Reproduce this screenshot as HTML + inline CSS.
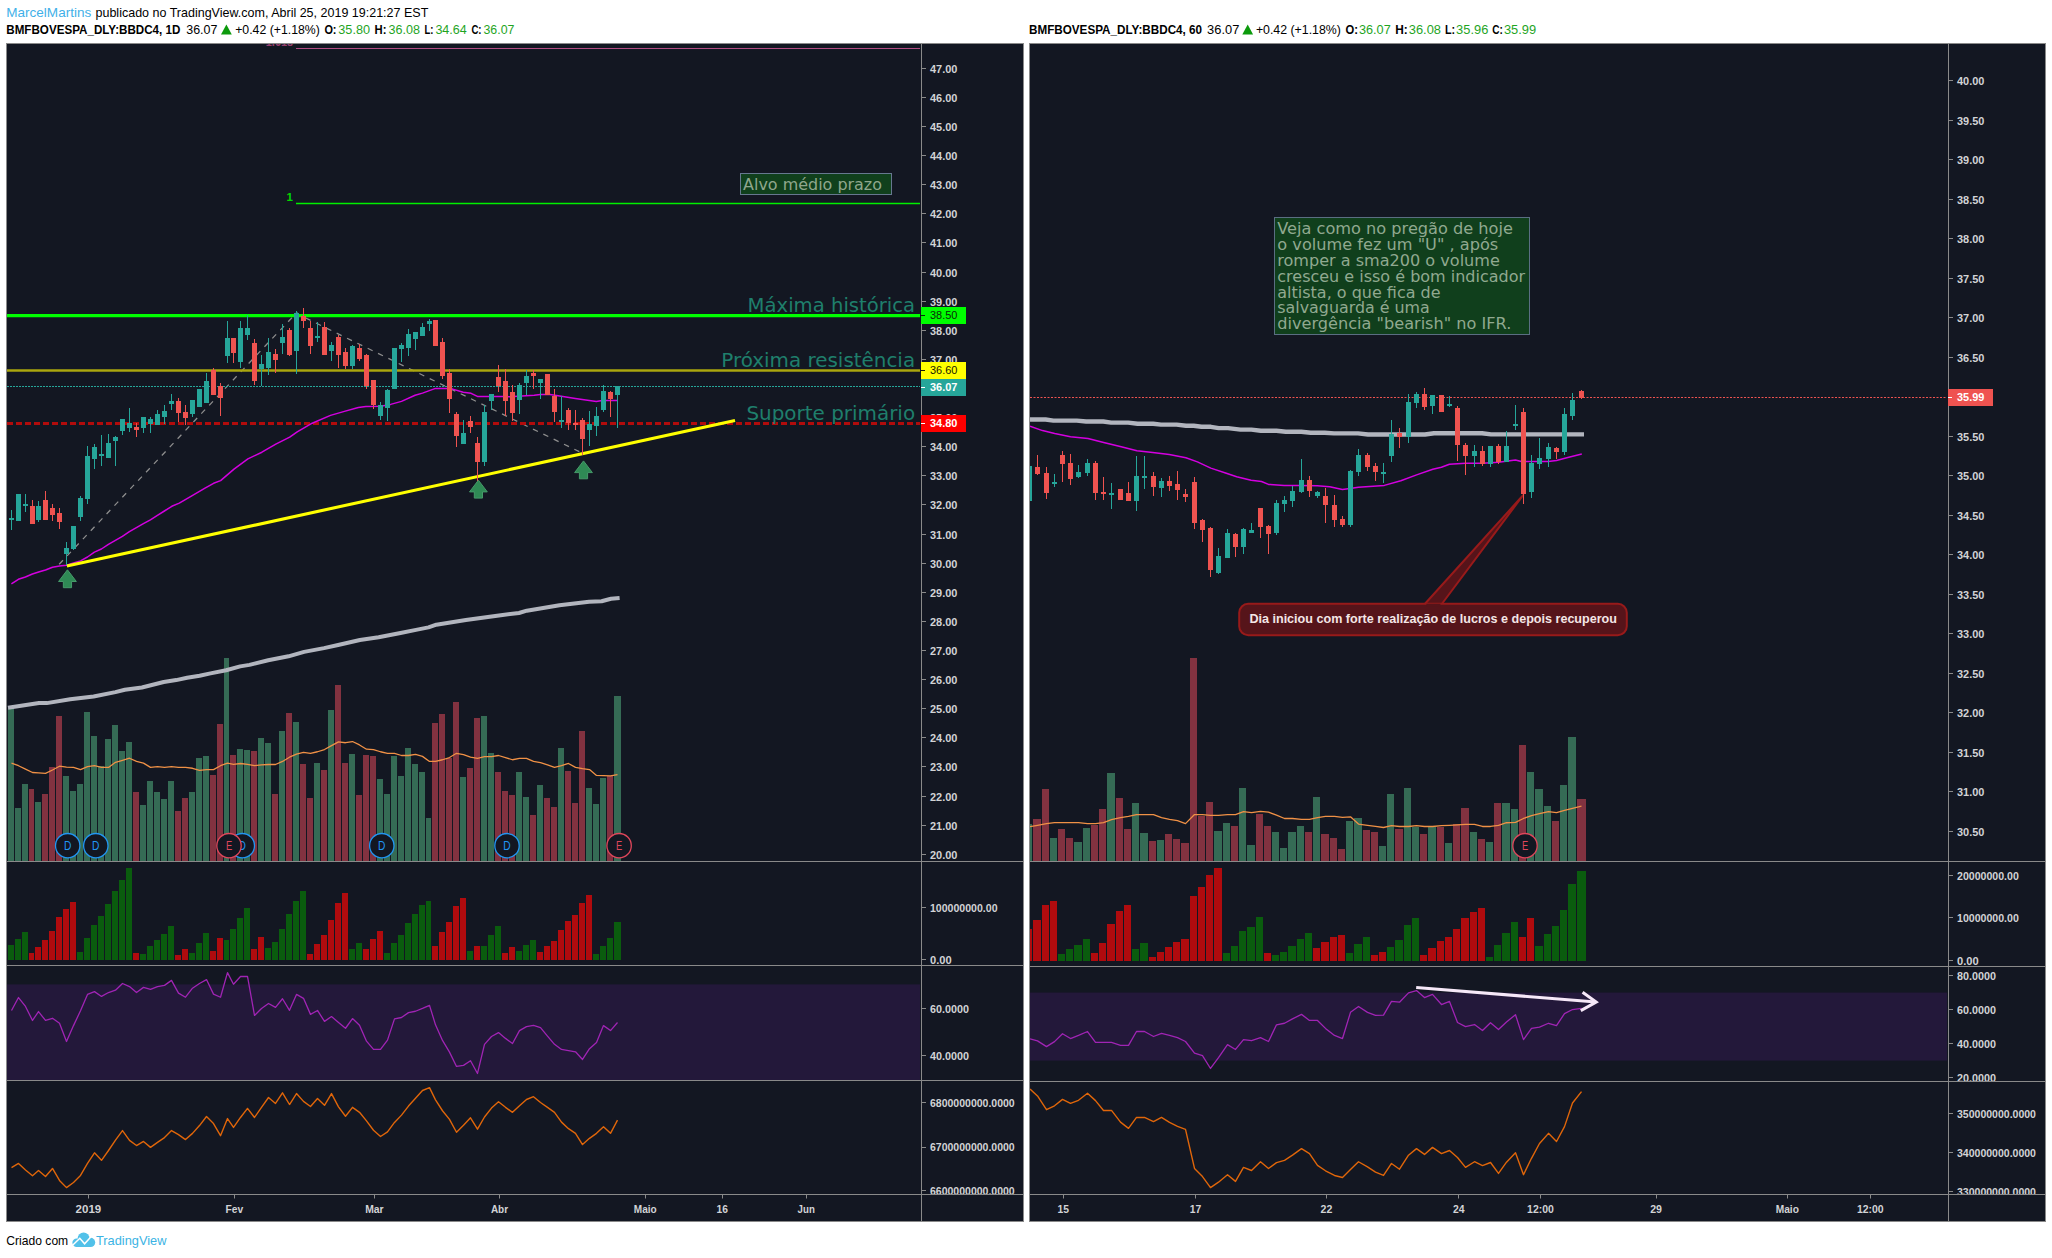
<!DOCTYPE html><html lang="pt"><head><meta charset="utf-8"><title>BBDC4 - TradingView</title>
<style>html,body{margin:0;padding:0;background:#fff}svg{display:block}text{font-family:'Liberation Sans', Arial, sans-serif}text.v{font-family:'DejaVu Sans', 'Liberation Sans', sans-serif}</style></head><body>
<svg width="2052" height="1258" viewBox="0 0 2052 1258">
<rect width="2052" height="1258" fill="#fff"/>
<defs>
<clipPath id="cl1"><rect x="7" y="44" width="914" height="817"/></clipPath>
<clipPath id="cl2"><rect x="7" y="862" width="914" height="103"/></clipPath>
<clipPath id="cl3"><rect x="7" y="966" width="914" height="114"/></clipPath>
<clipPath id="cl4"><rect x="7" y="1081" width="914" height="113"/></clipPath>
<clipPath id="cla"><rect x="922" y="44" width="101" height="1150"/></clipPath>
<clipPath id="cr1"><rect x="1030" y="44" width="918" height="817"/></clipPath>
<clipPath id="cr2"><rect x="1030" y="862" width="918" height="104"/></clipPath>
<clipPath id="cr3"><rect x="1030" y="967" width="918" height="114"/></clipPath>
<clipPath id="cr4"><rect x="1030" y="1082" width="918" height="112"/></clipPath>
<clipPath id="cra"><rect x="1949" y="44" width="96" height="1150"/></clipPath>
</defs>
<text x="6.3" y="17" font-size="12.6" font-weight="normal" fill="#3fb0e8" textLength="84.9" lengthAdjust="spacingAndGlyphs">MarcelMartins</text>
<text x="95.5" y="17" font-size="12.6" font-weight="normal" fill="#000" textLength="332.8" lengthAdjust="spacingAndGlyphs">publicado no TradingView.com, Abril 25, 2019 19:21:27 EST</text>
<text x="6.3" y="34" font-size="12.6" font-weight="bold" fill="#000" textLength="174.1" lengthAdjust="spacingAndGlyphs">BMFBOVESPA_DLY:BBDC4, 1D</text>
<text x="186.3" y="34" font-size="12.6" font-weight="normal" fill="#000" textLength="31.1" lengthAdjust="spacingAndGlyphs">36.07</text>
<path d="M221 34.5l5.4-10 5.4 10z" fill="#0c9a0c"/>
<text x="235.2" y="34" font-size="12.6" font-weight="normal" fill="#000" textLength="84.6" lengthAdjust="spacingAndGlyphs">+0.42 (+1.18%)</text>
<text x="324.4" y="34" font-size="12.6" font-weight="bold" fill="#000" textLength="12.1" lengthAdjust="spacingAndGlyphs">O:</text>
<text x="338.3" y="34" font-size="12.6" font-weight="normal" fill="#1fa51f" textLength="31.7" lengthAdjust="spacingAndGlyphs">35.80</text>
<text x="374.6" y="34" font-size="12.6" font-weight="bold" fill="#000" textLength="11.9" lengthAdjust="spacingAndGlyphs">H:</text>
<text x="388.5" y="34" font-size="12.6" font-weight="normal" fill="#1fa51f" textLength="31.4" lengthAdjust="spacingAndGlyphs">36.08</text>
<text x="424.5" y="34" font-size="12.6" font-weight="bold" fill="#000" textLength="8.9" lengthAdjust="spacingAndGlyphs">L:</text>
<text x="435.4" y="34" font-size="12.6" font-weight="normal" fill="#1fa51f" textLength="31.4" lengthAdjust="spacingAndGlyphs">34.64</text>
<text x="471.4" y="34" font-size="12.6" font-weight="bold" fill="#000" textLength="10.1" lengthAdjust="spacingAndGlyphs">C:</text>
<text x="483.5" y="34" font-size="12.6" font-weight="normal" fill="#1fa51f" textLength="30.9" lengthAdjust="spacingAndGlyphs">36.07</text>
<text x="1029" y="34" font-size="12.6" font-weight="bold" fill="#000" textLength="173.1" lengthAdjust="spacingAndGlyphs">BMFBOVESPA_DLY:BBDC4, 60</text>
<text x="1207.1" y="34" font-size="12.6" font-weight="normal" fill="#000" textLength="32.2" lengthAdjust="spacingAndGlyphs">36.07</text>
<path d="M1242.3 34.5l5.4-10 5.4 10z" fill="#0c9a0c"/>
<text x="1255.9" y="34" font-size="12.6" font-weight="normal" fill="#000" textLength="85" lengthAdjust="spacingAndGlyphs">+0.42 (+1.18%)</text>
<text x="1345.5" y="34" font-size="12.6" font-weight="bold" fill="#000" textLength="12.5" lengthAdjust="spacingAndGlyphs">O:</text>
<text x="1359" y="34" font-size="12.6" font-weight="normal" fill="#1fa51f" textLength="31.7" lengthAdjust="spacingAndGlyphs">36.07</text>
<text x="1395.3" y="34" font-size="12.6" font-weight="bold" fill="#000" textLength="12.5" lengthAdjust="spacingAndGlyphs">H:</text>
<text x="1408.8" y="34" font-size="12.6" font-weight="normal" fill="#1fa51f" textLength="32.2" lengthAdjust="spacingAndGlyphs">36.08</text>
<text x="1445" y="34" font-size="12.6" font-weight="bold" fill="#000" textLength="10.1" lengthAdjust="spacingAndGlyphs">L:</text>
<text x="1456.1" y="34" font-size="12.6" font-weight="normal" fill="#1fa51f" textLength="32.2" lengthAdjust="spacingAndGlyphs">35.96</text>
<text x="1492.3" y="34" font-size="12.6" font-weight="bold" fill="#000" textLength="10.6" lengthAdjust="spacingAndGlyphs">C:</text>
<text x="1503.9" y="34" font-size="12.6" font-weight="normal" fill="#1fa51f" textLength="32.2" lengthAdjust="spacingAndGlyphs">35.99</text>
<rect x="6.5" y="43.5" width="1017" height="1178" fill="#131722" stroke="#8a8a8a"/>
<rect x="1029.5" y="43.5" width="1016" height="1178" fill="#131722" stroke="#8a8a8a"/>
<path d="M7 861.5H1023" stroke="#8a8a8a"/>
<path d="M7 965.5H1023" stroke="#8a8a8a"/>
<path d="M7 1080.5H1023" stroke="#8a8a8a"/>
<path d="M7 1194.5H1023" stroke="#8a8a8a"/>
<path d="M921.5 44V1221" stroke="#8a8a8a"/>
<rect x="7" y="984.4" width="913" height="95.6" fill="#23183a"/>
<g clip-path="url(#cl1)">
<text x="265.8" y="46" font-size="12" font-weight="bold" fill="#96406f" textLength="27.3" lengthAdjust="spacingAndGlyphs">1.618</text>
<path d="M296 48.5H920" stroke="#b04c82"/>
<text x="286.6" y="201" font-size="11.5" font-weight="bold" fill="#00d800">1</text>
<path d="M296 203.5H920" stroke="#00f000" stroke-width="1.4"/>
<path d="M59.2 564.2L297.3 312" stroke="#8f8f8f" stroke-width="1.25" stroke-dasharray="5.5 6" fill="none"/>
<path d="M298.5 314.5L583 453.5" stroke="#8f8f8f" stroke-width="1.25" stroke-dasharray="5.5 6" stroke-dashoffset="3.5" fill="none"/>
<path d="M7 386.5H920" stroke="#26a69a" stroke-dasharray="2 1"/>
<path d="M7 315.6H920" stroke="#00ff00" stroke-width="3.2"/>
<path d="M7 370.5H920" stroke="#aaa60e" stroke-width="2.6"/>
<path d="M7 423.5H920" stroke="#b20c0c" stroke-width="3.2" stroke-dasharray="6 3"/>
</g>
<g clip-path="url(#cl1)" shape-rendering="crispEdges"><path fill="#356b55" d="M8 706h6V861h-6zM15 808h6V861h-6zM22 784h6V861h-6zM35 802h6V861h-6zM63 776h6V861h-6zM70 791h6V861h-6zM77 784h6V861h-6zM84 712h6V861h-6zM91 736h6V861h-6zM98 766h6V861h-6zM105 739h6V861h-6zM112 725h6V861h-6zM119 751h6V861h-6zM126 742h6V861h-6zM140 805h6V861h-6zM147 781h6V861h-6zM154 792h6V861h-6zM161 799h6V861h-6zM168 781h6V861h-6zM189 792h6V861h-6zM196 758h6V861h-6zM203 756h6V861h-6zM224 658h5V861h-5zM237 749h6V861h-6zM244 750h6V861h-6zM258 738h6V861h-6zM265 743h6V861h-6zM279 731h6V861h-6zM293 722h6V861h-6zM314 763h6V861h-6zM328 710h6V861h-6zM349 754h6V861h-6zM377 779h6V861h-6zM384 794h6V861h-6zM391 756h6V861h-6zM398 776h6V861h-6zM405 748h6V861h-6zM412 764h6V861h-6zM419 772h6V861h-6zM426 818h5V861h-5zM460 777h6V861h-6zM481 716h6V861h-6zM488 753h6V861h-6zM516 772h6V861h-6zM523 797h6V861h-6zM537 785h6V861h-6zM558 748h6V861h-6zM586 788h6V861h-6zM593 804h6V861h-6zM600 778h6V861h-6zM614 696h7V861h-7z"/><path fill="#823240" d="M29 789h5V861h-5zM42 794h6V861h-6zM49 767h6V861h-6zM56 716h6V861h-6zM133 792h6V861h-6zM175 811h6V861h-6zM182 798h6V861h-6zM210 775h6V861h-6zM217 724h6V861h-6zM230 755h6V861h-6zM251 751h6V861h-6zM272 794h6V861h-6zM286 713h6V861h-6zM300 764h6V861h-6zM307 798h6V861h-6zM321 770h6V861h-6zM335 685h6V861h-6zM342 763h6V861h-6zM356 795h6V861h-6zM363 755h6V861h-6zM370 756h6V861h-6zM432 723h6V861h-6zM439 714h6V861h-6zM446 758h6V861h-6zM453 702h6V861h-6zM467 768h6V861h-6zM474 718h6V861h-6zM495 772h6V861h-6zM502 791h6V861h-6zM509 795h6V861h-6zM530 815h6V861h-6zM544 798h6V861h-6zM551 807h6V861h-6zM565 771h6V861h-6zM572 803h6V861h-6zM579 731h6V861h-6zM607 776h6V861h-6z"/></g>
<polyline fill="none" stroke="#f09146" stroke-width="1.3" stroke-linejoin="round" clip-path="url(#cl1)" points="11.5,763.15 18.5,765.71 25.5,769.11 32.5,772.51 38.5,772.85 45.5,773.36 52.5,769.96 59.5,766.22 66.5,767.07 73.5,767.41 80.5,769.62 87.5,766.56 94.5,765.71 101.5,767.41 108.5,767.41 115.5,762.3 122.5,760.26 129.5,758.22 136.5,761.45 143.5,763.15 150.5,767.41 157.5,766.56 164.5,767.41 171.5,766.56 178.5,767.41 185.5,767.41 192.5,768.26 199.5,770.47 206.5,769.62 213.5,769.62 220.5,765.71 227.5,763.15 233.5,764.34 240.5,763.49 247.5,764.34 254.5,765.71 261.5,764.85 268.5,764.51 275.5,764.51 282.5,761.45 289.5,757.2 296.5,754.13 303.5,752.43 310.5,753.45 317.5,751.75 324.5,749.54 331.5,745.63 338.5,741.88 345.5,742.73 352.5,741.54 359.5,744.95 366.5,749.2 373.5,749.54 380.5,751.75 387.5,753.45 394.5,753.45 401.5,755.5 408.5,755.5 415.5,754.3 422.5,756.35 429.5,761.45 435.5,761.45 442.5,759.75 449.5,757.54 456.5,753.28 463.5,754.65 470.5,757.2 477.5,758.39 484.5,756.69 491.5,756.69 498.5,755.5 505.5,757.54 512.5,759.75 519.5,758.39 526.5,758.39 533.5,761.45 540.5,762.64 547.5,764.85 554.5,767.41 561.5,765.71 568.5,763.49 575.5,767.41 582.5,768.6 589.5,769.62 596.5,775.4 603.5,775.57 610.5,775.91 617.5,774.55"/>
<polyline fill="none" stroke="#b2b5be" stroke-width="4" stroke-linejoin="round" clip-path="url(#cl1)" stroke-linecap="butt" points="8,707.8 39,703.1 46.8,703.1 70.2,699.2 93.6,696.5 115.4,692.1 124.8,689.8 141.9,687.5 163.7,682 176.2,680.1 187.1,677.8 199.6,675.8 210.5,673.4 226.1,670.3 240.2,666.4 249.5,664.9 268.2,660.2 288.5,656.3 304.1,651.9 324,648.1 338.1,645 359.9,640 378.6,637.2 400.5,633 416,629.9 428.5,627.4 436.3,624.7 465.9,620 497.1,615.7 519,613 526.8,610.7 559.5,605.2 589.1,601.8 601.6,601.3 611,598.7 619.6,597.9"/>
<polyline fill="none" stroke="#d400e0" stroke-width="1.5" stroke-linejoin="round" clip-path="url(#cl1)" points="11.4,583.8 18.4,579.3 25.4,577 32.4,574 39.4,571.8 45.5,570 52.5,567.2 59.5,566.1 66.5,565.3 73.5,563 80.5,560.9 87.5,557 94.4,552.1 101.4,549 108.4,544.3 115.4,540.3 122.4,536.4 129.4,531.6 136.4,527.7 143.4,523.7 150.4,519.8 157.4,515.4 164.4,511 171.8,506.3 179.3,503.1 192.2,495.6 205,488.1 213.6,483.3 220.6,480.6 234,469.1 247.9,458.9 261.9,452.2 275.8,444.1 289.7,437.2 297.2,431.8 312.2,423.2 330.5,415.4 344.4,411.4 358.3,407.5 365.9,406.4 380.6,406.2 390.6,404.4 401.5,401.4 415.1,395.3 422.5,393.1 435.5,388.4 446.6,388.4 452.7,389.1 463.2,392.2 471.1,393.3 477.4,396.4 491.2,396.4 503.4,396.6 509.7,396.7 522,395.9 534.2,395.2 540.3,394.4 550,394.5 561.3,396.3 575.3,398.5 589.3,400.4 596.3,401.5 600.7,400.7 606.8,400.4 617.3,400.4"/>
<path d="M66.9 566.1L735 420.4" stroke="#ffff00" stroke-width="3.1" clip-path="url(#cl1)"/>
<g clip-path="url(#cl1)" shape-rendering="crispEdges"><path fill="#26a69a" d="M11 510h1V530h-1zM9 518h5V519.5h-5zM18 494h1V521h-1zM16 494h5V521h-5zM25 494h1V512h-1zM23 504h5V506h-5zM38 501h1V522h-1zM36 506h5V520h-5zM66 542h1V564.5h-1zM64 548h5V554h-5zM73 526h1V550h-1zM71 526h5V549h-5zM80 496h1V521h-1zM78 498h5V517h-5zM87 446h1V504h-1zM85 456h5V499h-5zM94 444h1V469h-1zM92 447h5V459h-5zM101 435h1V466h-1zM99 454h5V456h-5zM108 434h1V458h-1zM106 443h5V458h-5zM115 436h1V466h-1zM113 437h5V441h-5zM122 419h1V435h-1zM120 419h5V431h-5zM129 408h1V432h-1zM127 423h5V428h-5zM143 417h1V433h-1zM141 417h5V428h-5zM150 417h1V433h-1zM148 419h5V424h-5zM157 410h1V425h-1zM155 414h5V425h-5zM164 405h1V424h-1zM162 411h5V417h-5zM171 394h1V410h-1zM169 401h5V404h-5zM192 400h1V417h-1zM190 400h5V414h-5zM199 389h1V407h-1zM197 389h5V407h-5zM206 373h1V403h-1zM204 381h5V403h-5zM227 321h1V363h-1zM225 338h5V356h-5zM240 321h1V368h-1zM238 328h5V362h-5zM247 315h1V340h-1zM245 328h5V335h-5zM261 355h1V386h-1zM259 364h5V369h-5zM268 338h1V375h-1zM266 352h5V368h-5zM282 324h1V354h-1zM280 337h5V343h-5zM296 311h1V374h-1zM294 313h5V351h-5zM317 322h1V342h-1zM315 336h5V338h-5zM331 342h1V361h-1zM329 345h5V351h-5zM352 345h1V369h-1zM350 346h5V366h-5zM380 402h1V420h-1zM378 405h5V416h-5zM387 389h1V421h-1zM385 390h5V408h-5zM394 348h1V389h-1zM392 348h5V389h-5zM401 343h1V362h-1zM399 345h5V349h-5zM408 329h1V356h-1zM406 334h5V348h-5zM415 332h1V350h-1zM413 332h5V339h-5zM422 323h1V336h-1zM420 327h5V336h-5zM429 319h1V331h-1zM427 321h5V324h-5zM463 420h1V444h-1zM461 433h5V444h-5zM484 405h1V466h-1zM482 412h5V462h-5zM491 394h1V410h-1zM489 394h5V401h-5zM519 383h1V414h-1zM517 385h5V400h-5zM526 370h1V395h-1zM524 376h5V383h-5zM540 379h1V399h-1zM538 379h5V383h-5zM561 396h1V428h-1zM559 420h5V422h-5zM589 411h1V446h-1zM587 424h5V430h-5zM596 407h1V436h-1zM594 416h5V426h-5zM603 385h1V412h-1zM601 391h5V410h-5zM617 386h1V428h-1zM615 386h5V395h-5z"/><path fill="#ef5350" d="M32 500h1V524h-1zM30 506h5V524h-5zM45 491h1V520h-1zM43 500h5V520h-5zM52 504h1V521h-1zM50 508h5V515h-5zM59 508h1V529h-1zM57 513h5V522h-5zM136 423h1V437h-1zM134 427h5V430h-5zM178 398h1V422h-1zM176 401h5V413h-5zM185 405h1V425h-1zM183 412h5V418h-5zM213 368h1V395h-1zM211 370h5V395h-5zM220 383h1V416h-1zM218 386h5V398h-5zM233 338h1V363h-1zM231 338h5V353h-5zM254 339h1V385h-1zM252 343h5V381h-5zM275 349h1V373h-1zM273 354h5V360h-5zM289 328h1V356h-1zM287 330h5V355h-5zM303 308h1V328h-1zM301 316h5V321h-5zM310 321h1V354h-1zM308 328h5V346h-5zM324 322h1V355h-1zM322 327h5V355h-5zM338 335h1V368h-1zM336 337h5V355h-5zM345 348h1V369h-1zM343 352h5V366h-5zM359 344h1V361h-1zM357 348h5V359h-5zM366 354h1V389h-1zM364 355h5V386h-5zM373 380h1V409h-1zM371 380h5V405h-5zM435 320h1V346h-1zM433 320h5V346h-5zM442 338h1V379h-1zM440 342h5V376h-5zM449 369h1V413h-1zM447 373h5V399h-5zM456 412h1V447h-1zM454 414h5V436h-5zM470 416h1V433h-1zM468 421h5V427h-5zM477 437h1V481h-1zM475 443h5V462h-5zM498 365h1V392h-1zM496 377h5V386h-5zM505 369h1V416h-1zM503 381h5V401h-5zM512 385h1V421h-1zM510 392h5V413h-5zM533 370h1V389h-1zM531 373h5V376h-5zM547 374h1V395h-1zM545 374h5V395h-5zM554 389h1V422h-1zM552 396h5V412h-5zM568 408h1V430h-1zM566 410h5V423h-5zM575 410h1V430h-1zM573 423h5V425h-5zM582 418h1V455h-1zM580 420h5V439h-5zM610 391h1V417h-1zM608 392h5V399h-5z"/></g>
<path d="M67.45 569.8l8.9 11.7h-4.8v6.2h-8.2v-6.2h-4.8z" fill="#2f8a55" stroke="#469a6a" stroke-width="1" stroke-linejoin="round"/>
<path d="M478.4 480.2l8.9 11.7h-4.8v6.2h-8.2v-6.2h-4.8z" fill="#2f8a55" stroke="#469a6a" stroke-width="1" stroke-linejoin="round"/>
<path d="M583.5 460.9l8.9 11.7h-4.8v6.2h-8.2v-6.2h-4.8z" fill="#2f8a55" stroke="#469a6a" stroke-width="1" stroke-linejoin="round"/>
<text x="747.6" y="311.5" font-size="19.8" fill="#1f7f6c" class="v" textLength="167.5" lengthAdjust="spacingAndGlyphs">Máxima histórica</text>
<text x="721.3" y="366.7" font-size="19.9" fill="#1f7f6c" class="v" textLength="193.8" lengthAdjust="spacingAndGlyphs">Próxima resistência</text>
<text x="746.4" y="420" font-size="19.9" fill="#1f7f6c" class="v" textLength="168.7" lengthAdjust="spacingAndGlyphs">Suporte primário</text>
<rect x="740.5" y="173.5" width="151" height="21" fill="#10401c" stroke="#66788f"/>
<text x="743.1" y="190" font-size="16" fill="#8fa78d" class="v" textLength="138.9" lengthAdjust="spacingAndGlyphs">Alvo médio prazo</text>
<circle cx="67.7" cy="845.7" r="12.2" fill="#131722" stroke="#2196f3" stroke-width="1.3"/>
<text x="64" y="849.5" font-size="12.5" fill="#2196f3" textLength="7.4" lengthAdjust="spacingAndGlyphs">D</text>
<circle cx="95.8" cy="845.7" r="12.2" fill="#131722" stroke="#2196f3" stroke-width="1.3"/>
<text x="92.1" y="849.5" font-size="12.5" fill="#2196f3" textLength="7.4" lengthAdjust="spacingAndGlyphs">D</text>
<circle cx="242.3" cy="845.7" r="12.2" fill="#131722" stroke="#2196f3" stroke-width="1.3"/>
<text x="238.6" y="849.5" font-size="12.5" fill="#2196f3" textLength="7.4" lengthAdjust="spacingAndGlyphs">D</text>
<circle cx="229" cy="845.7" r="12.2" fill="#131722" stroke="#e0475b" stroke-width="1.3"/>
<text x="225.9" y="849.5" font-size="12.5" fill="#e0475b" textLength="6.2" lengthAdjust="spacingAndGlyphs">E</text>
<circle cx="381.8" cy="845.7" r="12.2" fill="#131722" stroke="#2196f3" stroke-width="1.3"/>
<text x="378.1" y="849.5" font-size="12.5" fill="#2196f3" textLength="7.4" lengthAdjust="spacingAndGlyphs">D</text>
<circle cx="507" cy="845.7" r="12.2" fill="#131722" stroke="#2196f3" stroke-width="1.3"/>
<text x="503.3" y="849.5" font-size="12.5" fill="#2196f3" textLength="7.4" lengthAdjust="spacingAndGlyphs">D</text>
<circle cx="619.1" cy="845.7" r="12.2" fill="#131722" stroke="#e0475b" stroke-width="1.3"/>
<text x="616" y="849.5" font-size="12.5" fill="#e0475b" textLength="6.2" lengthAdjust="spacingAndGlyphs">E</text>
<g clip-path="url(#cl2)" shape-rendering="crispEdges"><path fill="#0a5c0e" d="M8 945h6V960h-6zM15 939h6V960h-6zM22 932h6V960h-6zM77 952h6V960h-6zM84 938h6V960h-6zM91 925h6V960h-6zM98 916h6V960h-6zM105 904h6V960h-6zM112 891h6V960h-6zM119 880h6V960h-6zM126 868h6V960h-6zM140 954h6V960h-6zM147 946h6V960h-6zM154 940h6V960h-6zM161 934h6V960h-6zM168 926h6V960h-6zM189 953h6V960h-6zM196 943h6V960h-6zM203 933h6V960h-6zM224 940h5V960h-5zM230 929h6V960h-6zM237 918h6V960h-6zM244 908h6V960h-6zM265 948h6V960h-6zM272 942h6V960h-6zM279 929h6V960h-6zM286 914h6V960h-6zM293 901h6V960h-6zM300 891h6V960h-6zM349 949h6V960h-6zM356 943h6V960h-6zM384 953h6V960h-6zM391 943h6V960h-6zM398 935h6V960h-6zM405 923h6V960h-6zM412 914h6V960h-6zM419 905h6V960h-6zM426 901h5V960h-5zM467 951h6V960h-6zM481 946h6V960h-6zM488 935h6V960h-6zM495 926h6V960h-6zM516 951h6V960h-6zM523 945h6V960h-6zM530 940h6V960h-6zM593 954h6V960h-6zM600 946h6V960h-6zM607 938h6V960h-6zM614 922h7V960h-7z"/><path fill="#b00b0e" d="M29 953h5V960h-5zM35 947h6V960h-6zM42 940h6V960h-6zM49 931h6V960h-6zM56 917h6V960h-6zM63 909h6V960h-6zM70 902h6V960h-6zM133 953h6V960h-6zM175 955h6V960h-6zM182 949h6V960h-6zM210 951h6V960h-6zM217 938h6V960h-6zM251 949h6V960h-6zM258 937h6V960h-6zM307 954h6V960h-6zM314 944h6V960h-6zM321 935h6V960h-6zM328 920h6V960h-6zM335 903h6V960h-6zM342 893h6V960h-6zM363 949h6V960h-6zM370 939h6V960h-6zM377 931h6V960h-6zM432 946h6V960h-6zM439 932h6V960h-6zM446 922h6V960h-6zM453 906h6V960h-6zM460 898h6V960h-6zM474 946h6V960h-6zM502 953h6V960h-6zM509 947h6V960h-6zM537 952h6V960h-6zM544 946h6V960h-6zM551 941h6V960h-6zM558 930h6V960h-6zM565 921h6V960h-6zM572 915h6V960h-6zM579 903h6V960h-6zM586 895h6V960h-6z"/></g>
<polyline fill="none" stroke="#a024b4" stroke-width="1.3" stroke-linejoin="round" clip-path="url(#cl3)" points="11.5,1010.47 18.5,997.53 25.5,1006.42 32.5,1020.45 38.5,1011.56 45.5,1020.45 52.5,1018.27 59.5,1023.26 66.5,1041.5 73.5,1025.6 80.5,1010.78 87.5,994.41 94.5,991.6 101.5,996.44 108.5,992.54 115.5,990.2 122.5,983.49 129.5,986.61 136.5,992.54 143.5,987.39 150.5,989.42 157.5,986.61 164.5,985.36 171.5,980.37 178.5,993.16 185.5,997.22 192.5,988.17 199.5,983.49 206.5,979.59 213.5,994.1 220.5,997.22 227.5,972.58 233.5,984.27 240.5,976.48 247.5,976.48 254.5,1015.46 261.5,1008.44 268.5,1003.45 275.5,1007.35 282.5,998.78 289.5,1010.32 296.5,994.41 303.5,998.31 310.5,1014.37 317.5,1010.47 324.5,1021.39 331.5,1016.55 338.5,1022.48 345.5,1028.25 352.5,1018.58 359.5,1025.29 366.5,1041.19 373.5,1049.3 380.5,1049.3 387.5,1040.1 394.5,1018.89 401.5,1017.49 408.5,1012.65 415.5,1011.25 422.5,1008.44 429.5,1005.33 435.5,1024.82 442.5,1040.41 449.5,1052.11 456.5,1066.46 463.5,1065.36 470.5,1060.69 477.5,1073.47 484.5,1044.31 491.5,1036.51 498.5,1032.62 505.5,1038.39 512.5,1043.53 519.5,1030.59 526.5,1026.69 533.5,1025.44 540.5,1027.63 547.5,1036.2 554.5,1044.31 561.5,1049.46 568.5,1050.55 575.5,1051.8 582.5,1059.44 589.5,1048.68 596.5,1042.44 603.5,1025.6 610.5,1030.59 617.5,1022.48"/>
<polyline fill="none" stroke="#e0660a" stroke-width="1.4" stroke-linejoin="round" clip-path="url(#cl4)" points="11.5,1167.67 18.5,1163.46 25.5,1170.01 32.5,1175.78 38.5,1170.48 45.5,1176.56 52.5,1168.45 59.5,1180.46 66.5,1187.63 73.5,1182.48 80.5,1175.47 87.5,1163.46 94.5,1152.85 101.5,1160.34 108.5,1150.51 115.5,1140.07 122.5,1130.55 129.5,1140.38 136.5,1145.52 143.5,1141.47 150.5,1147.4 157.5,1142.41 164.5,1137.57 171.5,1130.55 178.5,1134.61 185.5,1139.6 192.5,1133.36 199.5,1125.56 206.5,1116.52 213.5,1123.54 220.5,1135.7 227.5,1118.55 233.5,1127.43 240.5,1117.45 247.5,1108.41 254.5,1117.45 261.5,1107.32 268.5,1097.49 275.5,1103.42 282.5,1092.81 289.5,1104.51 296.5,1093.59 303.5,1101.39 310.5,1106.54 317.5,1098.58 324.5,1105.29 331.5,1093.59 338.5,1106.85 345.5,1116.21 352.5,1107.32 359.5,1112.31 366.5,1120.88 373.5,1130.24 380.5,1136.48 387.5,1131.8 394.5,1122.44 401.5,1115.12 408.5,1106.07 415.5,1098.27 422.5,1090.48 429.5,1087.67 435.5,1099.83 442.5,1110.75 449.5,1119.33 456.5,1132.27 463.5,1125.25 470.5,1117.77 477.5,1129.15 484.5,1116.99 491.5,1108.1 498.5,1101.7 505.5,1107.32 512.5,1112.31 519.5,1105.76 526.5,1099.52 533.5,1096.71 540.5,1102.48 547.5,1107.32 554.5,1112.31 561.5,1122.13 568.5,1128.68 575.5,1133.36 582.5,1144.59 589.5,1138.35 596.5,1133.36 603.5,1126.65 610.5,1133.36 617.5,1120.11"/>
<g clip-path="url(#cla)">
<text x="930" y="858.8" font-size="11" font-weight="bold" fill="#d2d3d6" textLength="27.4" lengthAdjust="spacingAndGlyphs">20.00</text>
<text x="930" y="829.8" font-size="11" font-weight="bold" fill="#d2d3d6" textLength="27.4" lengthAdjust="spacingAndGlyphs">21.00</text>
<text x="930" y="800.8" font-size="11" font-weight="bold" fill="#d2d3d6" textLength="27.4" lengthAdjust="spacingAndGlyphs">22.00</text>
<text x="930" y="770.8" font-size="11" font-weight="bold" fill="#d2d3d6" textLength="27.4" lengthAdjust="spacingAndGlyphs">23.00</text>
<text x="930" y="741.8" font-size="11" font-weight="bold" fill="#d2d3d6" textLength="27.4" lengthAdjust="spacingAndGlyphs">24.00</text>
<text x="930" y="712.8" font-size="11" font-weight="bold" fill="#d2d3d6" textLength="27.4" lengthAdjust="spacingAndGlyphs">25.00</text>
<text x="930" y="683.8" font-size="11" font-weight="bold" fill="#d2d3d6" textLength="27.4" lengthAdjust="spacingAndGlyphs">26.00</text>
<text x="930" y="654.8" font-size="11" font-weight="bold" fill="#d2d3d6" textLength="27.4" lengthAdjust="spacingAndGlyphs">27.00</text>
<text x="930" y="625.8" font-size="11" font-weight="bold" fill="#d2d3d6" textLength="27.4" lengthAdjust="spacingAndGlyphs">28.00</text>
<text x="930" y="596.8" font-size="11" font-weight="bold" fill="#d2d3d6" textLength="27.4" lengthAdjust="spacingAndGlyphs">29.00</text>
<text x="930" y="567.8" font-size="11" font-weight="bold" fill="#d2d3d6" textLength="27.4" lengthAdjust="spacingAndGlyphs">30.00</text>
<text x="930" y="538.8" font-size="11" font-weight="bold" fill="#d2d3d6" textLength="27.4" lengthAdjust="spacingAndGlyphs">31.00</text>
<text x="930" y="508.8" font-size="11" font-weight="bold" fill="#d2d3d6" textLength="27.4" lengthAdjust="spacingAndGlyphs">32.00</text>
<text x="930" y="479.8" font-size="11" font-weight="bold" fill="#d2d3d6" textLength="27.4" lengthAdjust="spacingAndGlyphs">33.00</text>
<text x="930" y="450.8" font-size="11" font-weight="bold" fill="#d2d3d6" textLength="27.4" lengthAdjust="spacingAndGlyphs">34.00</text>
<text x="930" y="421.8" font-size="11" font-weight="bold" fill="#d2d3d6" textLength="27.4" lengthAdjust="spacingAndGlyphs">35.00</text>
<text x="930" y="392.8" font-size="11" font-weight="bold" fill="#d2d3d6" textLength="27.4" lengthAdjust="spacingAndGlyphs">36.00</text>
<text x="930" y="363.8" font-size="11" font-weight="bold" fill="#d2d3d6" textLength="27.4" lengthAdjust="spacingAndGlyphs">37.00</text>
<text x="930" y="334.8" font-size="11" font-weight="bold" fill="#d2d3d6" textLength="27.4" lengthAdjust="spacingAndGlyphs">38.00</text>
<text x="930" y="305.8" font-size="11" font-weight="bold" fill="#d2d3d6" textLength="27.4" lengthAdjust="spacingAndGlyphs">39.00</text>
<text x="930" y="276.8" font-size="11" font-weight="bold" fill="#d2d3d6" textLength="27.4" lengthAdjust="spacingAndGlyphs">40.00</text>
<text x="930" y="246.8" font-size="11" font-weight="bold" fill="#d2d3d6" textLength="27.4" lengthAdjust="spacingAndGlyphs">41.00</text>
<text x="930" y="217.8" font-size="11" font-weight="bold" fill="#d2d3d6" textLength="27.4" lengthAdjust="spacingAndGlyphs">42.00</text>
<text x="930" y="188.8" font-size="11" font-weight="bold" fill="#d2d3d6" textLength="27.4" lengthAdjust="spacingAndGlyphs">43.00</text>
<text x="930" y="159.8" font-size="11" font-weight="bold" fill="#d2d3d6" textLength="27.4" lengthAdjust="spacingAndGlyphs">44.00</text>
<text x="930" y="130.8" font-size="11" font-weight="bold" fill="#d2d3d6" textLength="27.4" lengthAdjust="spacingAndGlyphs">45.00</text>
<text x="930" y="101.8" font-size="11" font-weight="bold" fill="#d2d3d6" textLength="27.4" lengthAdjust="spacingAndGlyphs">46.00</text>
<text x="930" y="72.8" font-size="11" font-weight="bold" fill="#d2d3d6" textLength="27.4" lengthAdjust="spacingAndGlyphs">47.00</text>
<text x="930" y="911.6" font-size="11" font-weight="bold" fill="#d2d3d6" textLength="67.51" lengthAdjust="spacingAndGlyphs">100000000.00</text>
<text x="930" y="963.7" font-size="11" font-weight="bold" fill="#d2d3d6" textLength="21.67" lengthAdjust="spacingAndGlyphs">0.00</text>
<text x="930" y="1013.2" font-size="11" font-weight="bold" fill="#d2d3d6" textLength="38.86" lengthAdjust="spacingAndGlyphs">60.0000</text>
<text x="930" y="1060.2" font-size="11" font-weight="bold" fill="#d2d3d6" textLength="38.86" lengthAdjust="spacingAndGlyphs">40.0000</text>
<text x="930" y="1107" font-size="11" font-weight="bold" fill="#d2d3d6" textLength="84.7" lengthAdjust="spacingAndGlyphs">6800000000.0000</text>
<text x="930" y="1151.4" font-size="11" font-weight="bold" fill="#d2d3d6" textLength="84.7" lengthAdjust="spacingAndGlyphs">6700000000.0000</text>
<text x="930" y="1195" font-size="11" font-weight="bold" fill="#d2d3d6" textLength="84.7" lengthAdjust="spacingAndGlyphs">6600000000.0000</text>
<path d="M922 854.5h4M922 825.5h4M922 796.5h4M922 766.5h4M922 737.5h4M922 708.5h4M922 679.5h4M922 650.5h4M922 621.5h4M922 592.5h4M922 563.5h4M922 534.5h4M922 504.5h4M922 475.5h4M922 446.5h4M922 417.5h4M922 388.5h4M922 359.5h4M922 330.5h4M922 301.5h4M922 272.5h4M922 242.5h4M922 213.5h4M922 184.5h4M922 155.5h4M922 126.5h4M922 97.5h4M922 68.5h4M922 907.5h4M922 959.5h4M922 1008.5h4M922 1055.5h4M922 1102.5h4M922 1147.5h4M922 1190.5h4" stroke="#8a8a8a"/>
</g>
<rect x="921" y="307" width="45" height="17" fill="#00ff00"/>
<path d="M921 315.5h4" stroke="#0a2a0a"/>
<text x="930" y="319" font-size="11" font-weight="normal" fill="#0a2a0a" textLength="27.4" lengthAdjust="spacingAndGlyphs">38.50</text>
<rect x="921" y="362" width="45" height="17" fill="#ffff00"/>
<path d="M921 370.5h4" stroke="#1a1a00"/>
<text x="930" y="374" font-size="11" font-weight="normal" fill="#1a1a00" textLength="27.4" lengthAdjust="spacingAndGlyphs">36.60</text>
<rect x="921" y="379" width="45" height="17" fill="#26a69a"/>
<path d="M921 387.5h4" stroke="#ffffff"/>
<text x="930" y="391" font-size="11" font-weight="bold" fill="#ffffff" textLength="27.4" lengthAdjust="spacingAndGlyphs">36.07</text>
<rect x="921" y="415" width="45" height="17" fill="#ff0000"/>
<path d="M921 423.5h4" stroke="#ffffff"/>
<text x="930" y="427" font-size="11" font-weight="bold" fill="#ffffff" textLength="27.4" lengthAdjust="spacingAndGlyphs">34.80</text>
<path d="M88.5 1195v3.5" stroke="#8a8a8a"/>
<text x="75.6" y="1213" font-size="11.5" font-weight="bold" fill="#d2d3d6" textLength="25.6" lengthAdjust="spacingAndGlyphs">2019</text>
<path d="M234.5 1195v3.5" stroke="#8a8a8a"/>
<text x="225.55" y="1213" font-size="11.5" font-weight="bold" fill="#d2d3d6" textLength="17.7" lengthAdjust="spacingAndGlyphs">Fev</text>
<path d="M374.5 1195v3.5" stroke="#8a8a8a"/>
<text x="365.15" y="1213" font-size="11.5" font-weight="bold" fill="#d2d3d6" textLength="18.5" lengthAdjust="spacingAndGlyphs">Mar</text>
<path d="M499.5 1195v3.5" stroke="#8a8a8a"/>
<text x="490.9" y="1213" font-size="11.5" font-weight="bold" fill="#d2d3d6" textLength="17.2" lengthAdjust="spacingAndGlyphs">Abr</text>
<path d="M645.5 1195v3.5" stroke="#8a8a8a"/>
<text x="633.85" y="1213" font-size="11.5" font-weight="bold" fill="#d2d3d6" textLength="22.9" lengthAdjust="spacingAndGlyphs">Maio</text>
<path d="M722.5 1195v3.5" stroke="#8a8a8a"/>
<text x="716.5" y="1213" font-size="11.5" font-weight="bold" fill="#d2d3d6" textLength="11.4" lengthAdjust="spacingAndGlyphs">16</text>
<path d="M806.5 1195v3.5" stroke="#8a8a8a"/>
<text x="797.6" y="1213" font-size="11.5" font-weight="bold" fill="#d2d3d6" textLength="17.2" lengthAdjust="spacingAndGlyphs">Jun</text>
<path d="M1030 861.5H2045" stroke="#8a8a8a"/>
<path d="M1030 966.5H2045" stroke="#8a8a8a"/>
<path d="M1030 1081.5H2045" stroke="#8a8a8a"/>
<path d="M1030 1194.5H2045" stroke="#8a8a8a"/>
<path d="M1948.5 44V1221" stroke="#8a8a8a"/>
<rect x="1030" y="992.6" width="917" height="68" fill="#23183a"/>
<path d="M1030 397.5H1947" stroke="#ef5350" stroke-dasharray="2 1.5"/>
<g clip-path="url(#cr1)" shape-rendering="crispEdges"><path fill="#356b55" d="M1025 824h7V861h-7zM1050 838h7V861h-7zM1074 842h8V861h-8zM1083 828h7V861h-7zM1107 773h8V861h-8zM1132 803h7V861h-7zM1140 833h8V861h-8zM1157 840h7V861h-7zM1214 831h8V861h-8zM1223 823h7V861h-7zM1239 788h7V861h-7zM1247 845h8V861h-8zM1272 832h7V861h-7zM1280 848h7V861h-7zM1288 832h8V861h-8zM1297 826h7V861h-7zM1313 797h7V861h-7zM1346 821h7V861h-7zM1354 818h8V861h-8zM1379 846h7V861h-7zM1387 794h7V861h-7zM1404 788h7V861h-7zM1412 827h7V861h-7zM1428 827h8V861h-8zM1445 843h7V861h-7zM1470 832h7V861h-7zM1486 842h7V861h-7zM1502 803h8V861h-8zM1511 809h7V861h-7zM1527 772h7V861h-7zM1535 789h8V861h-8zM1544 806h7V861h-7zM1560 785h7V861h-7zM1568 737h8V861h-8z"/><path fill="#823240" d="M1033 819h8V861h-8zM1042 789h7V861h-7zM1058 829h7V861h-7zM1066 838h7V861h-7zM1091 825h7V861h-7zM1099 809h7V861h-7zM1116 798h7V861h-7zM1124 829h7V861h-7zM1149 841h7V861h-7zM1165 834h7V861h-7zM1173 839h7V861h-7zM1181 843h8V861h-8zM1190 658h7V861h-7zM1198 816h7V861h-7zM1206 802h7V861h-7zM1231 826h7V861h-7zM1256 814h7V861h-7zM1264 826h7V861h-7zM1305 832h7V861h-7zM1321 834h8V861h-8zM1330 838h7V861h-7zM1338 849h7V861h-7zM1363 830h7V861h-7zM1371 832h7V861h-7zM1395 829h8V861h-8zM1420 834h7V861h-7zM1437 827h7V861h-7zM1453 824h7V861h-7zM1461 808h8V861h-8zM1478 839h7V861h-7zM1494 803h7V861h-7zM1519 745h7V861h-7zM1552 821h7V861h-7zM1577 799h9V861h-9z"/></g>
<polyline fill="none" stroke="#f09146" stroke-width="1.3" stroke-linejoin="round" clip-path="url(#cr1)" points="1030,826.65 1037.5,825.29 1046.5,823.59 1054.5,822.57 1062.5,822.57 1070.5,822.57 1078.5,822.57 1087.5,823.59 1095.5,823.59 1103.5,822.57 1111.5,819.67 1120.5,817.63 1128.5,816.44 1136.5,814.57 1144.5,814.57 1153.5,814.57 1161.5,817.63 1169.5,819.33 1177.5,820.69 1185.5,823.59 1194.5,814.57 1202.5,814.57 1210.5,815.42 1218.5,815.42 1227.5,814.57 1235.5,814.57 1243.5,811.67 1251.5,812.53 1260.5,811.33 1268.5,812.19 1276.5,815.08 1284.5,818.48 1292.5,818.48 1301.5,819.33 1309.5,819.33 1317.5,817.63 1325.5,816.44 1334.5,816.44 1342.5,817.29 1350.5,816.78 1358.5,824.1 1367.5,825.29 1375.5,826.48 1383.5,827.5 1391.5,825.63 1399.5,826.48 1408.5,826.48 1416.5,825.63 1424.5,826.48 1432.5,826.48 1441.5,825.63 1449.5,825.29 1457.5,824.95 1465.5,824.44 1474.5,824.44 1482.5,826.48 1490.5,826.48 1498.5,825.29 1506.5,822.74 1515.5,822.4 1523.5,818.48 1531.5,815.59 1539.5,813.72 1548.5,811.67 1556.5,812.53 1564.5,810.48 1572.5,808.27 1581.5,806.23"/>
<polyline fill="none" stroke="#b2b5be" stroke-width="4.4" stroke-linejoin="round" clip-path="url(#cr1)" stroke-linecap="butt" points="1030,419.5 1045.6,419.5 1053.4,420.6 1076.8,420.6 1086.1,421.5 1103.3,421.5 1111.1,422.6 1128.2,422.6 1137.6,423.7 1153.2,423.7 1161,424.6 1176.6,424.6 1186,425.7 1193.7,425.7 1201.5,426.8 1210.9,426.8 1218.7,428.1 1228,428.1 1240.5,429.6 1251.4,429.6 1260.8,430.7 1276.4,430.7 1285.8,431.7 1301.3,431.7 1310.7,432.7 1324.7,432.7 1334,433.4 1358,433.4 1368,434.5 1425,434.5 1434,433.2 1482,433.2 1491,434.4 1584,434.4"/>
<polyline fill="none" stroke="#d400e0" stroke-width="1.5" stroke-linejoin="round" clip-path="url(#cr1)" points="1030,426.2 1042.5,430.6 1054.7,433.6 1070.5,436.7 1088,438.4 1103.7,442.4 1121.2,446.7 1136.9,450.7 1152.7,452.4 1169.3,454.6 1185.9,457.7 1197.4,461.9 1210.8,468.1 1226.3,473.3 1236.7,476.7 1251.1,480.2 1261.5,481.5 1268.5,484.4 1284.2,485.4 1298.7,485.4 1317.3,485.7 1329.7,486.7 1342.4,489.5 1350,488.6 1358.4,487.3 1384.3,485.4 1400.8,480.8 1417.3,474.6 1432.8,469.2 1441.4,467.3 1449.4,464.2 1465.4,463.2 1482.5,463.2 1498.5,462.2 1515.4,460.1 1521.3,461.6 1548.2,461.6 1556.5,460.4 1567.8,457.5 1581.8,454.1"/>
<path d="M1424.8 604L1523.3 495L1441.8 604" fill="#56141a" stroke="#981a1a" stroke-width="2" stroke-linejoin="round"/>
<rect x="1239.2" y="603.8" width="387.6" height="31.4" rx="9" fill="#56141a" stroke="#981a1a" stroke-width="2"/>
<path d="M1426.4 604.9H1440.4" stroke="#56141a" stroke-width="2.4"/>
<text x="1249.4" y="622.9" font-size="13" font-weight="bold" fill="#f4e6e6" textLength="367.6" lengthAdjust="spacingAndGlyphs">Dia iniciou com forte realização de lucros e depois recuperou</text>
<g clip-path="url(#cr1)" shape-rendering="crispEdges"><path fill="#26a69a" d="M1029 466h1V501h-1zM1027 466h5V501h-5zM1054 474h1V487h-1zM1052 482h5V484h-5zM1078 465h1V478h-1zM1076 472h5V477h-5zM1087 459h1V476h-1zM1085 463h5V473h-5zM1111 483h1V509h-1zM1109 493h5V494.5h-5zM1136 456h1V511h-1zM1134 476h5V501h-5zM1144 456h1V489h-1zM1142 476h5V478h-5zM1161 478h1V497h-1zM1159 481h5V488h-5zM1218 548h1V574h-1zM1216 556h5V573h-5zM1227 529h1V558h-1zM1225 533h5V558h-5zM1243 528h1V554h-1zM1241 529h5V547h-5zM1251 523h1V533h-1zM1249 530h5V533h-5zM1276 500h1V535h-1zM1274 503h5V533h-5zM1284 496h1V512h-1zM1282 500h5V504h-5zM1292 486h1V507h-1zM1290 491h5V501h-5zM1301 459h1V493h-1zM1299 480h5V492h-5zM1317 491h1V498h-1zM1315 492h5V496h-5zM1350 470h1V527h-1zM1348 471h5V525h-5zM1358 449h1V476h-1zM1356 455h5V472h-5zM1383 463h1V483h-1zM1381 472h5V473.5h-5zM1391 420h1V462h-1zM1389 434h5V456h-5zM1408 394h1V443h-1zM1406 402h5V437h-5zM1416 392h1V408h-1zM1414 394h5V403h-5zM1432 395h1V414h-1zM1430 395h5V406h-5zM1449 396h1V407h-1zM1447 404h5V406h-5zM1474 445h1V467h-1zM1472 451h5V456h-5zM1490 446h1V467h-1zM1488 446h5V464h-5zM1506 431h1V462h-1zM1504 446h5V462h-5zM1515 405h1V430h-1zM1513 424h5V425.5h-5zM1531 455h1V498h-1zM1529 463h5V492h-5zM1539 438h1V469h-1zM1537 458h5V464h-5zM1548 443h1V467h-1zM1546 447h5V459h-5zM1564 408h1V455h-1zM1562 414h5V452h-5zM1572 393h1V420h-1zM1570 400h5V416h-5z"/><path fill="#ef5350" d="M1037 455h1V475h-1zM1035 467h5V474h-5zM1046 467h1V499h-1zM1044 473h5V493h-5zM1062 451h1V482h-1zM1060 455h5V464h-5zM1070 454h1V485h-1zM1068 463h5V479h-5zM1095 461h1V500h-1zM1093 463h5V493h-5zM1103 477h1V500h-1zM1101 492h5V494h-5zM1120 489h1V500h-1zM1118 489h5V500h-5zM1128 482h1V501h-1zM1126 493h5V501h-5zM1153 472h1V496h-1zM1151 476h5V487h-5zM1169 476h1V491h-1zM1167 481h5V486h-5zM1177 471h1V500h-1zM1175 484h5V490h-5zM1185 489h1V502h-1zM1183 494h5V497h-5zM1194 477h1V529h-1zM1192 482h5V523h-5zM1202 519h1V542h-1zM1200 520h5V530h-5zM1210 527h1V577h-1zM1208 528h5V570h-5zM1235 533h1V557h-1zM1233 534h5V547h-5zM1260 508h1V538h-1zM1258 508h5V527h-5zM1268 525h1V554h-1zM1266 526h5V534h-5zM1309 476h1V497h-1zM1307 480h5V491h-5zM1325 488h1V523h-1zM1323 496h5V505h-5zM1334 495h1V527h-1zM1332 505h5V520h-5zM1342 516h1V527h-1zM1340 519h5V525h-5zM1367 453h1V471h-1zM1365 455h5V467h-5zM1375 463h1V481h-1zM1373 466h5V472h-5zM1399 428h1V448h-1zM1397 433h5V437h-5zM1424 388h1V410h-1zM1422 394h5V407h-5zM1441 395h1V412h-1zM1439 395h5V412h-5zM1457 406h1V461h-1zM1455 408h5V445h-5zM1465 443h1V475h-1zM1463 445h5V456h-5zM1482 446h1V466h-1zM1480 451h5V464h-5zM1498 444h1V464h-1zM1496 446h5V462h-5zM1523 408h1V504h-1zM1521 412h5V494h-5zM1556 447h1V459h-1zM1554 448h5V452h-5zM1581 390h1V399h-1zM1579 391h5V398h-5z"/></g>
<rect x="1274.5" y="217.5" width="255" height="117" fill="#103f1c" stroke="#5a6e82"/>
<text x="1277.3" y="233.9" font-size="16" fill="#90a990" class="v" textLength="235.6" lengthAdjust="spacingAndGlyphs">Veja como no pregão de hoje</text>
<text x="1277.3" y="249.8" font-size="16" fill="#90a990" class="v" textLength="220.9" lengthAdjust="spacingAndGlyphs">o volume fez um &quot;U&quot; , após</text>
<text x="1277.3" y="265.7" font-size="16" fill="#90a990" class="v" textLength="222.5" lengthAdjust="spacingAndGlyphs">romper a sma200 o volume</text>
<text x="1277.3" y="281.6" font-size="16" fill="#90a990" class="v" textLength="247.7" lengthAdjust="spacingAndGlyphs">cresceu e isso é bom indicador</text>
<text x="1277.3" y="297.5" font-size="16" fill="#90a990" class="v" textLength="163.3" lengthAdjust="spacingAndGlyphs">altista, o que fica de</text>
<text x="1277.3" y="313.4" font-size="16" fill="#90a990" class="v" textLength="152.5" lengthAdjust="spacingAndGlyphs">salvaguarda é uma</text>
<text x="1277.3" y="329.3" font-size="16" fill="#90a990" class="v" textLength="234" lengthAdjust="spacingAndGlyphs">divergência &quot;bearish&quot; no IFR.</text>
<circle cx="1525" cy="845.7" r="12.2" fill="#131722" stroke="#e0475b" stroke-width="1.3"/>
<text x="1521.9" y="849.5" font-size="12.5" fill="#e0475b" textLength="6.2" lengthAdjust="spacingAndGlyphs">E</text>
<g clip-path="url(#cr2)" shape-rendering="crispEdges"><path fill="#0a5c0e" d="M1058 954h7V961h-7zM1066 949h7V961h-7zM1074 945h8V961h-8zM1083 939h7V961h-7zM1132 949h7V961h-7zM1140 943h8V961h-8zM1223 953h7V961h-7zM1231 946h7V961h-7zM1239 931h7V961h-7zM1247 927h8V961h-8zM1256 917h7V961h-7zM1272 955h7V961h-7zM1280 952h7V961h-7zM1288 946h8V961h-8zM1297 939h7V961h-7zM1305 933h7V961h-7zM1346 953h7V961h-7zM1354 944h8V961h-8zM1363 937h7V961h-7zM1387 947h7V961h-7zM1395 940h8V961h-8zM1404 925h7V961h-7zM1412 918h7V961h-7zM1486 957h7V961h-7zM1494 945h7V961h-7zM1502 933h8V961h-8zM1511 922h7V961h-7zM1535 946h8V961h-8zM1544 934h7V961h-7zM1552 926h7V961h-7zM1560 910h7V961h-7zM1568 884h8V961h-8zM1577 871h9V961h-9z"/><path fill="#b00b0e" d="M1025 929h7V961h-7zM1033 920h8V961h-8zM1042 905h7V961h-7zM1050 901h7V961h-7zM1091 953h7V961h-7zM1099 943h7V961h-7zM1107 924h8V961h-8zM1116 911h7V961h-7zM1124 905h7V961h-7zM1149 957h7V961h-7zM1157 952h7V961h-7zM1165 947h7V961h-7zM1173 942h7V961h-7zM1181 939h8V961h-8zM1190 896h7V961h-7zM1198 887h7V961h-7zM1206 875h7V961h-7zM1214 868h8V961h-8zM1264 953h7V961h-7zM1313 948h7V961h-7zM1321 942h8V961h-8zM1330 937h7V961h-7zM1338 935h7V961h-7zM1371 955h7V961h-7zM1379 952h7V961h-7zM1420 955h7V961h-7zM1428 948h8V961h-8zM1437 941h7V961h-7zM1445 937h7V961h-7zM1453 929h7V961h-7zM1461 918h8V961h-8zM1470 912h7V961h-7zM1478 908h7V961h-7zM1519 937h7V961h-7zM1527 918h7V961h-7z"/></g>
<polyline fill="none" stroke="#a024b4" stroke-width="1.3" stroke-linejoin="round" clip-path="url(#cr3)" points="1030,1038.85 1037.5,1040.88 1046.5,1046.65 1054.5,1041.66 1062.5,1033.71 1070.5,1038.54 1078.5,1035.42 1087.5,1031.52 1095.5,1042.44 1103.5,1042.44 1111.5,1042.44 1120.5,1045.4 1128.5,1045.4 1136.5,1031.52 1144.5,1031.52 1153.5,1036.51 1161.5,1033.4 1169.5,1035.42 1177.5,1037.61 1185.5,1041.5 1194.5,1053.2 1202.5,1055.7 1210.5,1068.48 1218.5,1057.57 1227.5,1044.62 1235.5,1049.46 1243.5,1039.63 1251.5,1040.73 1260.5,1037.61 1268.5,1041.5 1276.5,1024.82 1284.5,1023.26 1292.5,1018.89 1301.5,1014.37 1309.5,1020.45 1317.5,1020.45 1325.5,1028.41 1334.5,1035.42 1342.5,1038.54 1350.5,1012.34 1358.5,1006.42 1367.5,1012.34 1375.5,1015.46 1383.5,1015.15 1391.5,1001.43 1399.5,1002.21 1408.5,992.85 1416.5,990.51 1424.5,997.53 1432.5,994.41 1441.5,1004.55 1449.5,1001.43 1457.5,1022.48 1465.5,1026.69 1474.5,1024.51 1482.5,1030.59 1490.5,1022.79 1498.5,1029.5 1506.5,1022.01 1515.5,1014.68 1523.5,1039.63 1531.5,1028.41 1539.5,1027.16 1548.5,1023.26 1556.5,1025.6 1564.5,1013.59 1572.5,1009.54 1581.5,1008.44"/>
<polyline fill="none" stroke="#e0660a" stroke-width="1.4" stroke-linejoin="round" clip-path="url(#cr4)" points="1030,1088.92 1037.5,1095.93 1046.5,1109.66 1054.5,1105.76 1062.5,1099.36 1070.5,1103.42 1078.5,1100.3 1087.5,1093.28 1095.5,1100.61 1103.5,1110.44 1111.5,1110.44 1120.5,1122.13 1128.5,1128.37 1136.5,1117.45 1144.5,1117.45 1153.5,1121.66 1161.5,1117.45 1169.5,1122.44 1177.5,1126.34 1185.5,1129.46 1194.5,1168.45 1202.5,1176.56 1210.5,1187.63 1218.5,1182.17 1227.5,1174.69 1235.5,1181.39 1243.5,1167.36 1251.5,1170.48 1260.5,1161.74 1268.5,1168.45 1276.5,1162.68 1284.5,1160.34 1292.5,1155.19 1301.5,1148.64 1309.5,1153.63 1317.5,1165.33 1325.5,1170.79 1334.5,1175.47 1342.5,1177.49 1350.5,1169.54 1358.5,1161.74 1367.5,1166.89 1375.5,1172.04 1383.5,1175.47 1391.5,1163.46 1399.5,1169.23 1408.5,1155.19 1416.5,1148.64 1424.5,1154.41 1432.5,1147.4 1441.5,1153.63 1449.5,1150.51 1457.5,1157.53 1465.5,1167.36 1474.5,1161.74 1482.5,1165.64 1490.5,1162.52 1498.5,1173.44 1506.5,1162.21 1515.5,1152.85 1523.5,1174.69 1531.5,1158.31 1539.5,1143.5 1548.5,1133.36 1556.5,1141.47 1564.5,1126.65 1572.5,1102.95 1581.5,1091.57"/>
<g stroke="#f6e8f8" stroke-width="3" fill="none" stroke-linecap="butt"><path d="M1416.2 987.4L1596 1002.1"/><path d="M1582.6 992.2L1596.2 1002.1L1580.8 1010.6" stroke-linejoin="miter"/></g>
<g clip-path="url(#cra)">
<text x="1957" y="835.8" font-size="11" font-weight="bold" fill="#d2d3d6" textLength="27.4" lengthAdjust="spacingAndGlyphs">30.50</text>
<text x="1957" y="795.8" font-size="11" font-weight="bold" fill="#d2d3d6" textLength="27.4" lengthAdjust="spacingAndGlyphs">31.00</text>
<text x="1957" y="756.8" font-size="11" font-weight="bold" fill="#d2d3d6" textLength="27.4" lengthAdjust="spacingAndGlyphs">31.50</text>
<text x="1957" y="716.8" font-size="11" font-weight="bold" fill="#d2d3d6" textLength="27.4" lengthAdjust="spacingAndGlyphs">32.00</text>
<text x="1957" y="677.8" font-size="11" font-weight="bold" fill="#d2d3d6" textLength="27.4" lengthAdjust="spacingAndGlyphs">32.50</text>
<text x="1957" y="637.8" font-size="11" font-weight="bold" fill="#d2d3d6" textLength="27.4" lengthAdjust="spacingAndGlyphs">33.00</text>
<text x="1957" y="598.8" font-size="11" font-weight="bold" fill="#d2d3d6" textLength="27.4" lengthAdjust="spacingAndGlyphs">33.50</text>
<text x="1957" y="558.8" font-size="11" font-weight="bold" fill="#d2d3d6" textLength="27.4" lengthAdjust="spacingAndGlyphs">34.00</text>
<text x="1957" y="519.8" font-size="11" font-weight="bold" fill="#d2d3d6" textLength="27.4" lengthAdjust="spacingAndGlyphs">34.50</text>
<text x="1957" y="479.8" font-size="11" font-weight="bold" fill="#d2d3d6" textLength="27.4" lengthAdjust="spacingAndGlyphs">35.00</text>
<text x="1957" y="440.8" font-size="11" font-weight="bold" fill="#d2d3d6" textLength="27.4" lengthAdjust="spacingAndGlyphs">35.50</text>
<text x="1957" y="400.8" font-size="11" font-weight="bold" fill="#d2d3d6" textLength="27.4" lengthAdjust="spacingAndGlyphs">36.00</text>
<text x="1957" y="361.8" font-size="11" font-weight="bold" fill="#d2d3d6" textLength="27.4" lengthAdjust="spacingAndGlyphs">36.50</text>
<text x="1957" y="321.8" font-size="11" font-weight="bold" fill="#d2d3d6" textLength="27.4" lengthAdjust="spacingAndGlyphs">37.00</text>
<text x="1957" y="282.8" font-size="11" font-weight="bold" fill="#d2d3d6" textLength="27.4" lengthAdjust="spacingAndGlyphs">37.50</text>
<text x="1957" y="242.8" font-size="11" font-weight="bold" fill="#d2d3d6" textLength="27.4" lengthAdjust="spacingAndGlyphs">38.00</text>
<text x="1957" y="203.8" font-size="11" font-weight="bold" fill="#d2d3d6" textLength="27.4" lengthAdjust="spacingAndGlyphs">38.50</text>
<text x="1957" y="163.8" font-size="11" font-weight="bold" fill="#d2d3d6" textLength="27.4" lengthAdjust="spacingAndGlyphs">39.00</text>
<text x="1957" y="124.8" font-size="11" font-weight="bold" fill="#d2d3d6" textLength="27.4" lengthAdjust="spacingAndGlyphs">39.50</text>
<text x="1957" y="84.8" font-size="11" font-weight="bold" fill="#d2d3d6" textLength="27.4" lengthAdjust="spacingAndGlyphs">40.00</text>
<text x="1957" y="879.7" font-size="11" font-weight="bold" fill="#d2d3d6" textLength="61.78" lengthAdjust="spacingAndGlyphs">20000000.00</text>
<text x="1957" y="921.7" font-size="11" font-weight="bold" fill="#d2d3d6" textLength="61.78" lengthAdjust="spacingAndGlyphs">10000000.00</text>
<text x="1957" y="964.8" font-size="11" font-weight="bold" fill="#d2d3d6" textLength="21.67" lengthAdjust="spacingAndGlyphs">0.00</text>
<text x="1957" y="979.8" font-size="11" font-weight="bold" fill="#d2d3d6" textLength="38.86" lengthAdjust="spacingAndGlyphs">80.0000</text>
<text x="1957" y="1014.1" font-size="11" font-weight="bold" fill="#d2d3d6" textLength="38.86" lengthAdjust="spacingAndGlyphs">60.0000</text>
<text x="1957" y="1048" font-size="11" font-weight="bold" fill="#d2d3d6" textLength="38.86" lengthAdjust="spacingAndGlyphs">40.0000</text>
<text x="1957" y="1081.9" font-size="11" font-weight="bold" fill="#d2d3d6" textLength="38.86" lengthAdjust="spacingAndGlyphs">20.0000</text>
<text x="1957" y="1117.7" font-size="11" font-weight="bold" fill="#d2d3d6" textLength="78.97" lengthAdjust="spacingAndGlyphs">350000000.0000</text>
<text x="1957" y="1156.8" font-size="11" font-weight="bold" fill="#d2d3d6" textLength="78.97" lengthAdjust="spacingAndGlyphs">340000000.0000</text>
<text x="1957" y="1195.6" font-size="11" font-weight="bold" fill="#d2d3d6" textLength="78.97" lengthAdjust="spacingAndGlyphs">330000000.0000</text>
<path d="M1949 831.5h4M1949 791.5h4M1949 752.5h4M1949 712.5h4M1949 673.5h4M1949 633.5h4M1949 594.5h4M1949 554.5h4M1949 515.5h4M1949 475.5h4M1949 436.5h4M1949 396.5h4M1949 357.5h4M1949 317.5h4M1949 278.5h4M1949 238.5h4M1949 199.5h4M1949 159.5h4M1949 120.5h4M1949 80.5h4M1949 875.5h4M1949 917.5h4M1949 960.5h4M1949 975.5h4M1949 1009.5h4M1949 1043.5h4M1949 1077.5h4M1949 1113.5h4M1949 1152.5h4M1949 1191.5h4" stroke="#8a8a8a"/>
</g>
<path d="M1949 966.5H2045" stroke="#8a8a8a"/>
<path d="M1949 1081.5H2045" stroke="#8a8a8a"/>
<path d="M1949 1194.5H2045" stroke="#8a8a8a"/>
<rect x="1948" y="389" width="45" height="17" fill="#ef5350"/>
<path d="M1948 397.5h4" stroke="#fff"/>
<text x="1957" y="401" font-size="11" font-weight="bold" fill="#fff" textLength="27.4" lengthAdjust="spacingAndGlyphs">35.99</text>
<path d="M1063.5 1195v3.5" stroke="#8a8a8a"/>
<text x="1057.45" y="1213" font-size="11.5" font-weight="bold" fill="#d2d3d6" textLength="11.5" lengthAdjust="spacingAndGlyphs">15</text>
<path d="M1195.5 1195v3.5" stroke="#8a8a8a"/>
<text x="1189.65" y="1213" font-size="11.5" font-weight="bold" fill="#d2d3d6" textLength="11.5" lengthAdjust="spacingAndGlyphs">17</text>
<path d="M1326.5 1195v3.5" stroke="#8a8a8a"/>
<text x="1320.5" y="1213" font-size="11.5" font-weight="bold" fill="#d2d3d6" textLength="11.8" lengthAdjust="spacingAndGlyphs">22</text>
<path d="M1458.5 1195v3.5" stroke="#8a8a8a"/>
<text x="1452.9" y="1213" font-size="11.5" font-weight="bold" fill="#d2d3d6" textLength="11.6" lengthAdjust="spacingAndGlyphs">24</text>
<path d="M1540.5 1195v3.5" stroke="#8a8a8a"/>
<text x="1527.1" y="1213" font-size="11.5" font-weight="bold" fill="#d2d3d6" textLength="26.8" lengthAdjust="spacingAndGlyphs">12:00</text>
<path d="M1656.5 1195v3.5" stroke="#8a8a8a"/>
<text x="1650.2" y="1213" font-size="11.5" font-weight="bold" fill="#d2d3d6" textLength="11.8" lengthAdjust="spacingAndGlyphs">29</text>
<path d="M1787.5 1195v3.5" stroke="#8a8a8a"/>
<text x="1775.7" y="1213" font-size="11.5" font-weight="bold" fill="#d2d3d6" textLength="23.2" lengthAdjust="spacingAndGlyphs">Maio</text>
<path d="M1870.5 1195v3.5" stroke="#8a8a8a"/>
<text x="1856.9" y="1213" font-size="11.5" font-weight="bold" fill="#d2d3d6" textLength="26.8" lengthAdjust="spacingAndGlyphs">12:00</text>
<text x="6.3" y="1245" font-size="12.6" font-weight="normal" fill="#000" textLength="61.9" lengthAdjust="spacingAndGlyphs">Criado com</text>
<g fill="#52c1e9"><circle cx="76.6" cy="1242.8" r="4.2"/><circle cx="83.6" cy="1238.6" r="6"/><circle cx="90.6" cy="1242.4" r="4.6"/><rect x="76.6" y="1240" width="14" height="7"/></g>
<polyline points="72.6,1245.2 79.8,1238.3 84.6,1243.8 91,1236.8" fill="none" stroke="#fff" stroke-width="1.5"/>
<text x="96" y="1245" font-size="12.6" font-weight="normal" fill="#3bb3e4" textLength="70.5" lengthAdjust="spacingAndGlyphs">TradingView</text>
</svg></body></html>
